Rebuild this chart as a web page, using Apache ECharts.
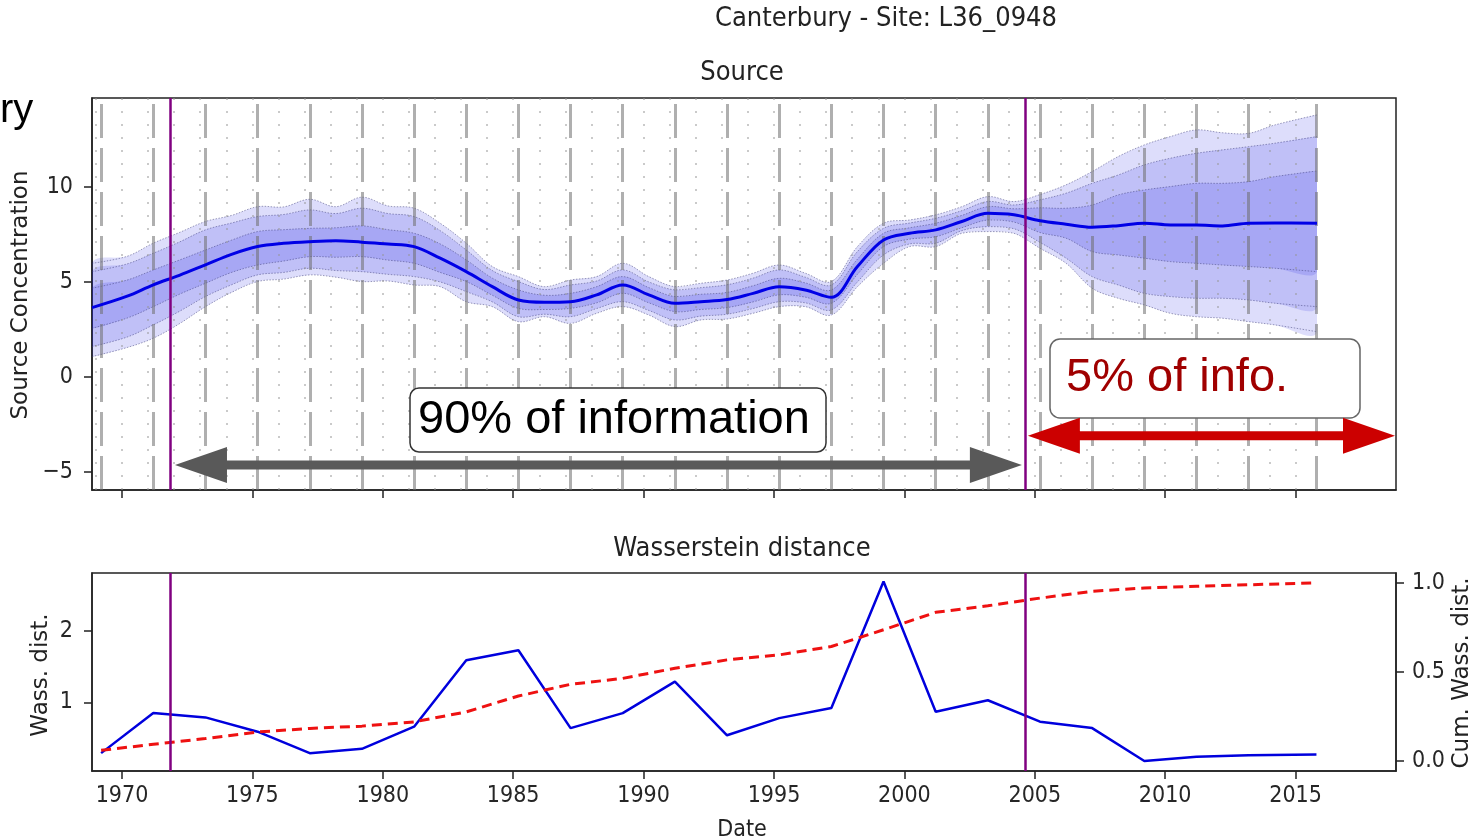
<!DOCTYPE html>
<html><head><meta charset="utf-8">
<script src="https://cdn.jsdelivr.net/npm/echarts@6/dist/echarts.min.js"></script>
<style>html,body{margin:0;padding:0;background:#fff}#c{width:1476px;height:840px}</style>
</head><body><div id="c"></div>
<script>
// ---- data ----
const bandDates = [1968.85,1970.2,1971.2,1972.2,1973.2,1974.2,1975.2,1976.2,1977.2,1978.2,1979.2,1980.2,1981.2,1982.2,1983.2,1984.2,1985.2,1986.2,1987.2,1988.2,1989.2,1990.2,1991.2,1992.2,1993.2,1994.2,1995.2,1996.2,1997.2,1998.2,1999.2,2000.2,2001.2,2002.2,2003.2,2004.2,2005.2,2006.2,2007.2,2008.2,2009.2,2010.2,2011.2,2012.2,2013.2,2014.2,2015.82];
const median   = [3.65,4.25,4.85,5.35,5.90,6.45,6.86,7.03,7.12,7.17,7.09,7.00,6.86,6.25,5.54,4.75,4.05,3.93,3.96,4.32,4.84,4.32,3.88,3.96,4.07,4.40,4.75,4.58,4.19,5.81,7.21,7.56,7.74,8.18,8.61,8.53,8.22,8.04,7.88,7.96,8.09,8.00,8.00,7.95,8.09,8.10,8.09];
const outerTop = [5.98,6.35,7.04,7.60,8.18,8.50,8.96,8.95,9.35,8.96,9.46,9.00,8.88,8.09,7.04,5.81,5.28,4.75,5.10,5.28,5.98,5.28,4.75,4.93,5.10,5.46,5.89,5.46,5.02,6.86,8.09,8.26,8.53,8.96,9.49,9.23,9.60,10.11,10.81,11.60,12.21,12.65,13.00,12.85,12.82,13.26,13.79];
const midTop   = [5.54,5.95,6.51,7.10,7.74,8.10,8.44,8.55,8.79,8.60,8.88,8.60,8.44,7.70,6.68,5.60,5.02,4.60,4.84,5.05,5.63,5.00,4.58,4.70,4.85,5.20,5.63,5.25,4.84,6.60,7.82,8.10,8.35,8.75,9.23,9.05,9.32,9.67,10.19,10.63,11.16,11.51,11.77,11.95,12.12,12.30,12.65];
const innerTop = [4.67,5.10,5.63,6.15,6.68,7.20,7.65,7.75,7.82,7.85,7.95,7.75,7.56,7.00,6.16,5.20,4.58,4.30,4.40,4.75,5.28,4.70,4.23,4.35,4.45,4.80,5.19,4.95,4.58,6.20,7.56,7.85,8.09,8.50,8.96,8.85,8.90,8.88,9.05,9.58,9.84,10.02,10.19,10.19,10.28,10.54,10.84];
const innerBot = [2.56,3.10,3.70,4.35,4.93,5.50,5.89,6.10,6.33,6.30,6.33,6.15,5.98,5.50,5.02,4.30,3.61,3.55,3.61,3.90,4.40,3.90,3.44,3.55,3.65,3.95,4.32,4.20,3.88,5.40,6.86,7.25,7.38,7.85,8.26,8.15,7.60,7.30,6.60,6.42,6.25,6.07,5.98,5.89,5.81,5.72,5.54];
const midBot   = [1.60,2.10,2.74,3.45,4.23,4.85,5.37,5.50,5.72,5.60,5.54,5.40,5.28,5.00,4.49,3.95,3.17,3.30,3.17,3.60,3.96,3.50,3.00,3.20,3.30,3.60,3.96,3.90,3.53,5.00,6.42,7.00,7.04,7.70,7.91,7.80,7.08,6.25,5.28,4.84,4.40,4.23,4.14,4.14,4.05,3.88,3.70];
const outerBot = [1.07,1.55,2.04,2.80,3.70,4.45,5.02,5.15,5.37,5.25,5.02,5.05,4.84,4.75,3.96,3.70,2.91,3.17,2.82,3.35,3.70,3.26,2.65,3.00,3.05,3.35,3.70,3.70,3.26,4.75,5.98,6.86,6.86,7.56,7.65,7.56,6.77,5.98,4.67,4.14,3.79,3.35,3.17,3.09,2.91,2.74,2.38];

const sampleDates = [1969.2,1971.2,1973.2,1975.2,1977.2,1979.2,1981.2,1983.2,1985.2,1987.2,1989.2,1991.2,1993.2,1995.2,1997.2,1999.2,2001.2,2003.2,2005.2,2007.2,2009.2,2011.2,2013.2,2015.8];
const wassDist = [0.29,0.85,0.79,0.59,0.29,0.35,0.66,1.59,1.73,0.64,0.85,1.29,0.54,0.78,0.92,2.69,0.87,1.03,0.73,0.64,0.18,0.24,0.26,0.27];
const cumWass  = [0.06,0.094,0.126,0.163,0.183,0.196,0.22,0.276,0.365,0.431,0.464,0.521,0.568,0.596,0.643,0.737,0.835,0.872,0.915,0.953,0.972,0.981,0.99,1.0];

const yearLines = [1969,1970,1971,1972,1973,1974,1975,1976,1977,1978,1979,1980,1981,1982,1983,1984,1985,1986,1987,1988,1989,1990,1991,1992,1993,1994,1995,1996,1997,1998,1999,2000,2001,2002,2003,2004,2005,2006,2007,2008,2009,2010,2011,2012,2013,2014,2015];
const cutDates = [1971.84, 2004.62];
const xTicks = [1970,1975,1980,1985,1990,1995,2000,2005,2010,2015];
const yTicksTop = [-5,0,5,10];
const yTicksWass = [1,2];
const yTicksCum = [0,0.5,1.0];
const xRange = [1968.85, 2018.85];

// ---- chart ----
const chart = echarts.init(document.getElementById('c'), null, {renderer:'canvas'});
const COND = "'DejaVu Sans Condensed','DejaVu Sans',sans-serif";
const zip = (xs, ys) => xs.map((x,i)=>[x, ys[i]]);
const SM = 0.35;

function bbox(pts){
  let x0=Infinity,y0=Infinity,x1=-Infinity,y1=-Infinity;
  pts.forEach(p=>{x0=Math.min(x0,p[0]);y0=Math.min(y0,p[1]);x1=Math.max(x1,p[0]);y1=Math.max(y1,p[1]);});
  return [[x0,y0],[x1,y1]];
}

function band(lo, hi, z){
  return {
    type:'custom', xAxisIndex:0, yAxisIndex:0, clip:true, silent:true, z:z,
    data: bandDates.map((x,i)=>[x, lo[i], hi[i]]),
    encode:{x:0, y:[1,2]},
    renderItem:(params, api)=>{
      if (params.dataIndex !== 0) return null;
      const up = bandDates.map((x,i)=>api.coord([x, hi[i]]));
      const dn = bandDates.map((x,i)=>api.coord([x, lo[i]]));
      const poly = up.concat(dn.slice().reverse());
      const edge = {stroke:'rgba(60,60,120,0.5)', lineWidth:1, lineDash:[1.5,1.5], fill:null};
      return {type:'group', children:[
        {type:'polygon', shape:{points: poly, smooth:SM, smoothConstraint:bbox(poly)}, style:{fill:'rgba(20,20,225,0.145)'}},
        {type:'polyline', shape:{points: up, smooth:SM, smoothConstraint:bbox(up)}, style:edge},
        {type:'polyline', shape:{points: dn, smooth:SM, smoothConstraint:bbox(dn)}, style:edge}
      ]};
    }
  };
}

const vLines = [];
yearLines.forEach(v => vLines.push({xAxis:v, lineStyle:{type:[2,11], color:'rgba(150,150,150,0.5)', width:2}}));
sampleDates.forEach(v => vLines.push({xAxis:v, lineStyle:{type:[34,10], color:'rgba(110,110,110,0.55)', width:3}}));
const purple = cutDates.map(v => ({xAxis:v, lineStyle:{type:'solid', color:'#800080', width:2.5}}));

const tickLabel = {fontSize:23, fontFamily:COND, color:'#262626'};
const axisBase = {
  axisLine:{show:true, onZero:false, lineStyle:{color:'#222', width:1.5}},
  splitLine:{show:false}
};

const option = {
  animation:false,
  backgroundColor:'#fff',
  textStyle:{fontFamily:COND},
  grid:[
    {left:92, top:98, width:1304, height:392, show:true, borderColor:'#222', borderWidth:1.5, backgroundColor:'transparent'},
    {left:92, top:573, width:1304, height:198, show:true, borderColor:'#222', borderWidth:1.5, backgroundColor:'transparent'}
  ],
  xAxis:[
    Object.assign({type:'value', gridIndex:0, min:xRange[0], max:xRange[1],
      axisTick:{show:true, length:8, customValues:xTicks, lineStyle:{color:'#222', width:1.5}},
      axisLabel:{show:false}}, axisBase),
    Object.assign({type:'value', gridIndex:1, min:xRange[0], max:xRange[1],
      axisTick:{show:true, length:8, customValues:xTicks, lineStyle:{color:'#222', width:1.5}},
      axisLabel:Object.assign({show:true, customValues:xTicks, margin:14, formatter:v=>String(v)}, tickLabel)}, axisBase)
  ],
  yAxis:[
    Object.assign({type:'value', gridIndex:0, min:-5.95, max:14.68,
      axisTick:{show:true, length:8, customValues:yTicksTop, lineStyle:{color:'#222', width:1.5}},
      axisLabel:Object.assign({customValues:yTicksTop, margin:19, formatter:v=> v<0 ? '\u2212'+Math.abs(v) : String(v)}, tickLabel)}, axisBase),
    Object.assign({type:'value', gridIndex:1, min:0.04, max:2.81,
      axisTick:{show:true, length:8, customValues:yTicksWass, lineStyle:{color:'#222', width:1.5}},
      axisLabel:Object.assign({customValues:yTicksWass, margin:19, formatter:v=>String(v)}, tickLabel)}, axisBase),
    Object.assign({type:'value', gridIndex:1, position:'right', min:-0.056, max:1.056,
      axisTick:{show:true, length:8, customValues:yTicksCum, lineStyle:{color:'#222', width:1.5}},
      axisLabel:Object.assign({customValues:yTicksCum, margin:16, formatter:v=>v.toFixed(1)}, tickLabel)}, axisBase)
  ],
  series:[
    band(outerBot, outerTop, 2),
    band(midBot, midTop, 2),
    band(innerBot, innerTop, 2),
    {type:'line', name:'vlines', xAxisIndex:0, yAxisIndex:0, data:[], z:3, silent:true,
     markLine:{silent:true, symbol:['none','none'], label:{show:false}, z:3, data:vLines}},
    {type:'line', name:'median', xAxisIndex:0, yAxisIndex:0, data:zip(bandDates, median), symbol:'none', smooth:SM,
     lineStyle:{color:'#0000e6', width:3}, z:4, silent:true,
     markLine:{silent:true, symbol:['none','none'], label:{show:false}, z:6, data:purple}},
    {type:'line', name:'wass', xAxisIndex:1, yAxisIndex:1, data:zip(sampleDates, wassDist), symbol:'none',
     lineStyle:{color:'#0000dd', width:2.5}, z:4, silent:true,
     markLine:{silent:true, symbol:['none','none'], label:{show:false}, z:6, data:purple}},
    {type:'line', name:'cum', xAxisIndex:1, yAxisIndex:2, data:zip(sampleDates, cumWass), symbol:'none',
     lineStyle:{color:'#ee1111', width:3, type:[10,6]}, z:4, silent:true}
  ]
};
chart.setOption(option);

// ---- annotations (positions from data scale) ----
const yGray = -4.63, yRed = -3.1;
const pA = chart.convertToPixel({xAxisIndex:0, yAxisIndex:0}, [cutDates[0], yGray]);
const pB = chart.convertToPixel({xAxisIndex:0, yAxisIndex:0}, [cutDates[1], yGray]);
const pC = chart.convertToPixel({xAxisIndex:0, yAxisIndex:0}, [cutDates[1], yRed]);
const pD = chart.convertToPixel({xAxisIndex:0, yAxisIndex:0}, [xRange[1], yRed]);
function dblArrow(x1, x2, y, hl, hw, sw){
  return [[x1,y],[x1+hl,y-hw],[x1+hl,y-sw],[x2-hl,y-sw],[x2-hl,y-hw],[x2,y],[x2-hl,y+hw],[x2-hl,y+sw],[x1+hl,y+sw],[x1+hl,y+hw]];
}
const ARIAL = "'Liberation Sans', Arial, sans-serif";
chart.setOption({graphic:[
  {type:'text', id:'ry', left:0, top:91, style:{text:'ry', font:"40px "+ARIAL, fill:'#000'}},
  {type:'text', id:'t1', x:886, y:19, style:{text:'Canterbury - Site: L36_0948', font:"27px "+COND, fill:'#222', align:'center', verticalAlign:'middle'}},
  {type:'text', id:'t2', x:742, y:73, style:{text:'Source', font:"27px "+COND, fill:'#222', align:'center', verticalAlign:'middle'}},
  {type:'text', id:'t3', x:742, y:549, style:{text:'Wasserstein distance', font:"27px "+COND, fill:'#222', align:'center', verticalAlign:'middle'}},
  {type:'text', id:'t4', x:742, y:830, style:{text:'Date', font:"23px "+COND, fill:'#222', align:'center', verticalAlign:'middle'}},
  {type:'text', id:'t5', x:21, y:295, rotation:Math.PI/2, style:{text:'Source Concentration', font:"23px 'DejaVu Sans', sans-serif", fill:'#222', align:'center', verticalAlign:'middle'}},
  {type:'text', id:'t6', x:41, y:675, rotation:Math.PI/2, style:{text:'Wass. dist.', font:"23px 'DejaVu Sans', sans-serif", fill:'#222', align:'center', verticalAlign:'middle'}},
  {type:'text', id:'t7', x:1462, y:673, rotation:Math.PI/2, style:{text:'Cum. Wass. dist.', font:"23px 'DejaVu Sans', sans-serif", fill:'#222', align:'center', verticalAlign:'middle'}},
  {type:'rect', id:'b1', shape:{x:410, y:388, width:416, height:64, r:9}, style:{fill:'#fff', stroke:'#333', lineWidth:1.5}, z:50},
  {type:'text', id:'b1t', x:418, y:420, style:{text:'90% of information', font:"47px "+ARIAL, fill:'#000', align:'left', verticalAlign:'middle'}, z:51},
  {type:'rect', id:'b2', shape:{x:1050, y:339, width:310, height:79, r:10}, style:{fill:'#fff', stroke:'#666', lineWidth:1.5}, z:50},
  {type:'text', id:'b2t', x:1066, y:378, style:{text:'5% of info.', font:"47px "+ARIAL, fill:'#a00000', align:'left', verticalAlign:'middle'}, z:51},
  {type:'polygon', id:'a1', shape:{points:dblArrow(pA[0]+5, pB[0]-3, pA[1], 52, 18, 4.5)}, style:{fill:'#595959'}, z:52},
  {type:'polygon', id:'a2', shape:{points:dblArrow(pC[0]+3, pD[0]-1, pC[1], 52, 18, 4.5)}, style:{fill:'#cc0000'}, z:52}
]});
</script>
</body></html>
